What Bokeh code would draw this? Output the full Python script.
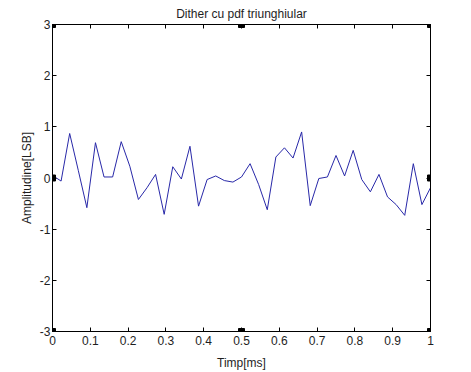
from bokeh.plotting import figure
from bokeh.models import LinearAxis, FixedTicker, Range1d
from bokeh.embed import file_html
from bokeh.resources import INLINE

# data: 45 samples over 0..1 ms
n_points = 45
time_ms = [i / (n_points - 1) for i in range(n_points)]
amplitude = [0.05, -0.06, 0.87, 0.15, -0.58, 0.69, 0.02, 0.02, 0.71, 0.23,
             -0.42, -0.19, 0.07, -0.71, 0.22, -0.02, 0.62, -0.55, -0.03, 0.04,
             -0.05, -0.08, 0.02, 0.28, -0.13, -0.62, 0.41, 0.59, 0.39, 0.90,
             -0.54, -0.01, 0.02, 0.44, 0.04, 0.54, -0.03, -0.27, 0.07, -0.37,
             -0.52, -0.73, 0.28, -0.52, -0.19]
marker_x = [0, 0.5, 1, 0, 0.5, 1, 0, 1]
marker_y = [3, 3, 3, -3, -3, -3, 0, 0]
x_ticks = [0, 0.1, 0.2, 0.3, 0.4, 0.5, 0.6, 0.7, 0.8, 0.9, 1]
x_tick_labels = ["0", "0.1", "0.2", "0.3", "0.4", "0.5", "0.6", "0.7", "0.8", "0.9", "1"]
y_ticks = [-3, -2, -1, 0, 1, 2, 3]
y_tick_labels = ["-3", "-2", "-1", "0", "1", "2", "3"]

FONT = "Liberation Sans"
TXT = "#1e1e1e"

p = figure(width=463, height=372, output_backend="svg", toolbar_location=None,
           x_range=Range1d(0, 1), y_range=Range1d(-3, 3),
           title="Dither cu pdf triunghiular",
           min_border_left=52, min_border_right=33, min_border_bottom=20, min_border_top=0)
p.frame_width = 378
p.frame_height = 307
p.title.align = "center"
p.title.text_font = FONT
p.title.text_font_size = "12px"
p.title.text_font_style = "normal"
p.title.text_color = TXT
p.title.standoff = 8
p.title.offset = 0

p.xgrid.visible = False
p.ygrid.visible = False
p.outline_line_color = "black"
p.outline_line_width = 1

def style_axis(ax, labels=True):
    ax.axis_line_color = "black"
    ax.major_tick_in = 4
    ax.major_tick_out = 0
    ax.minor_tick_line_color = None
    ax.major_label_text_font = FONT
    ax.major_label_text_font_size = "12px"
    ax.major_label_text_color = TXT
    ax.axis_label_text_font = FONT
    ax.axis_label_text_font_size = "12px"
    ax.axis_label_text_font_style = "normal"
    ax.axis_label_text_color = TXT
    if not labels:
        ax.major_label_text_font_size = "0px"
        ax.major_label_text_color = None

p.xaxis.ticker = FixedTicker(ticks=x_ticks)
p.yaxis.ticker = FixedTicker(ticks=y_ticks)
p.xaxis.axis_label = "Timp[ms]"
p.yaxis.axis_label = "Amplitudine[LSB]"
p.xaxis.major_label_standoff = 4
p.yaxis.major_label_standoff = 2
p.xaxis.axis_label_standoff = 8
p.yaxis.axis_label_standoff = 3
style_axis(p.xaxis[0])
style_axis(p.yaxis[0])
p.xaxis.major_label_overrides = dict(zip(x_ticks, x_tick_labels))
p.yaxis.major_label_overrides = dict(zip(y_ticks, y_tick_labels))

top = LinearAxis(ticker=FixedTicker(ticks=x_ticks))
style_axis(top, labels=False)
p.add_layout(top, "above")
right = LinearAxis(ticker=FixedTicker(ticks=y_ticks))
style_axis(right, labels=False)
p.add_layout(right, "right")

p.line(time_ms, amplitude, line_color="#2828a8", line_width=1)
p.scatter(marker_x, marker_y, marker="square", size=6, fill_color="black",
          line_color="black")

open("out.html", "w").write(file_html(p, INLINE))
